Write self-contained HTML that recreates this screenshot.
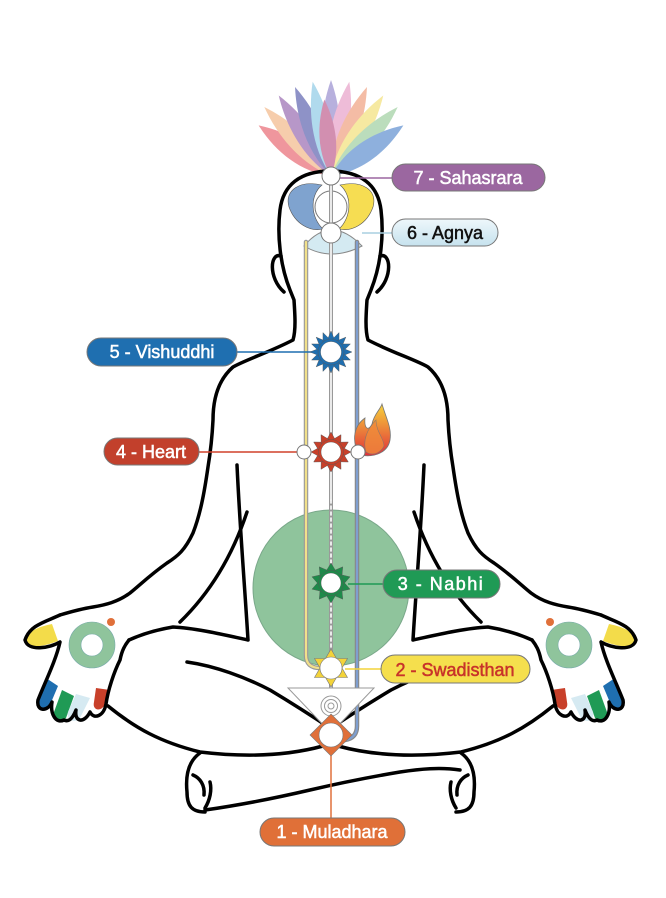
<!DOCTYPE html>
<html><head><meta charset="utf-8"><style>
html,body{margin:0;padding:0;background:#fff;}
svg{display:block}
text{font-family:"Liberation Sans",sans-serif;font-size:18px;}
</style></head><body>
<svg width="666" height="898" viewBox="0 0 666 898" xmlns="http://www.w3.org/2000/svg">
<defs>
<linearGradient id="fl" x1="0" y1="0" x2="0" y2="1"><stop offset="0" stop-color="#f7d23a"/><stop offset="1" stop-color="#e0303a"/></linearGradient>
<linearGradient id="ag" x1="0" y1="0" x2="0" y2="1"><stop offset="0" stop-color="#eef7fb"/><stop offset="1" stop-color="#c6e2ee"/></linearGradient>
<path id="pet" d="M0,0 C-13,-30 -11,-65 0,-96 C11,-65 13,-30 0,0Z"/>
<path id="s16" d="M-4.5,-10 L0,-21 L4.5,-10Z"/>
<path id="s12" d="M-5.5,-10 L0,-20 L5.5,-10Z"/>
<path id="s10" d="M-6,-10 L0,-20 L6,-10Z"/>
<g id="half" fill="none" stroke="#000" stroke-width="3.5" stroke-linecap="round" stroke-linejoin="round">
  <g stroke="none">
    <path d="M25,640 C28,630 42,626 52,624 L58,641 C45,646 28,650 25,640Z" fill="#f3dc4a"/>
    <path d="M46,678 L58,686 L50,705 C44,712 36,708 38,698Z" fill="#1f6fb0"/>
    <path d="M62,690 L74,696 L66,718 C60,724 52,718 54,712Z" fill="#1f9a55"/>
    <path d="M76,694 L90,698 L80,718 C74,724 66,720 68,712Z" fill="#d6eaf2"/>
    <path d="M96,688 L110,690 L104,706 C100,712 92,710 94,702Z" fill="#c8402a"/>
  </g>
  <circle cx="92" cy="645" r="17" stroke="#8fc49c" stroke-width="12" fill="none"/>
  <circle cx="92" cy="645" r="23" stroke="#7aa" stroke-width="0.6"/>
  <circle cx="92" cy="645" r="11" stroke="#7aa" stroke-width="0.6"/>
  <circle cx="111" cy="622" r="4" fill="#e0703a" stroke="none"/>
  <path d="M331,171 C300,171 283,185 280,210 C277,235 280,265 290,290 L294,300 C295,315 296,330 293,340 C270,352 245,360 233,367 C218,380 213,400 213,420 C212,440 210,455 208,467 C204,495 200,515 193,533 C185,550 178,556 167,563 C150,575 140,585 130,593 C118,602 105,605 93,607 C80,609 70,612 60,615"/>
  <path d="M281,256 C270,252 268,278 284,292"/>
  <path d="M60,615 C45,622 30,625 25,640 C28,652 50,648 60,642 C56,660 46,680 38,700 C36,712 48,712 52,702 C50,714 56,724 64,720 C68,722 72,720 76,710 C74,722 84,724 90,712 C94,720 104,716 106,704 C108,690 114,672 120,660 C122,650 125,645 129,640"/>
  <path d="M237,465 C240,530 245,590 248,640 C225,635 195,628 173,627 C155,630 140,635 129,640"/>
  <path d="M247,512 C235,548 215,588 180,622"/>
  <path d="M187,662 C215,666 245,677 270,690 C290,702 315,718 333,730"/>
  <path d="M108,706 C135,728 160,742 200,752 C250,758 290,755 323,746"/>
  <path d="M200,753 C190,760 185,772 187,792 C187,806 192,812 205,812"/>
  <path d="M193,775 C200,778 205,785 204,795"/>
  <path d="M210,782 C212,790 210,800 205,808"/>
</g>
</defs>

<g transform="translate(331,176)" opacity="0.7">
  <use href="#pet" transform="rotate(-55) scale(1.1,0.92)" fill="#e96a74"/>
  <use href="#pet" transform="rotate(-44)" fill="#f3b98a"/>
  <use href="#pet" transform="rotate(-33)" fill="#9a6cb2"/>
  <use href="#pet" transform="rotate(-22)" fill="#5f64b0"/>
  <use href="#pet" transform="rotate(-11)" fill="#8fcbe6"/>
  <use href="#pet" transform="rotate(0)" fill="#9a8fd0"/>
  <use href="#pet" transform="rotate(11)" fill="#e8a0c8"/>
  <use href="#pet" transform="rotate(22)" fill="#f0a080"/>
  <use href="#pet" transform="rotate(33)" fill="#f3e07a"/>
  <use href="#pet" transform="rotate(44)" fill="#9fd0a0"/>
  <use href="#pet" transform="rotate(55) scale(1.1,0.92)" fill="#5f8fd0"/>
  <use href="#pet" transform="rotate(-5) scale(0.9,0.8)" fill="#c06090"/>
</g>

<use href="#half"/>
<use href="#half" transform="translate(661,0) scale(-1,1)"/>
<path d="M205,810 C240,805 280,797 310,790 C340,783 370,777 400,772 C420,769 440,767 460,770" fill="none" stroke="#000" stroke-width="3.5" stroke-linecap="round"/>

<circle cx="331" cy="588" r="78" fill="#8fc49c" stroke="#7aa88a" stroke-width="1"/>

<path d="M322,185 C300,180 284,190 289,207 C295,224 310,232 323,229 C311,218 309,196 322,185Z" fill="#7fa3cf" stroke="#555" stroke-width="0.6"/>
<path d="M340,185 C362,180 378,190 373,207 C367,224 352,232 339,229 C351,218 353,196 340,185Z" fill="#f6dd52" stroke="#555" stroke-width="0.6"/>
<circle cx="331" cy="207" r="16" fill="#fff" stroke="#777" stroke-width="1"/>

<path d="M304,246 Q331,214 362,246 Q331,262 304,246Z" fill="#d4eaf2" stroke="#888" stroke-width="1"/>

<g fill="none" stroke-linecap="round">
  <path d="M306,242 L306,655 Q306,668 320,668" stroke="#999" stroke-width="4.5"/>
  <path d="M306,242 L306,655 Q306,668 320,668" stroke="#f1e08a" stroke-width="2.2"/>
  <path d="M357,242 L357,726 Q357,738 345,740" stroke="#888" stroke-width="4.5"/>
  <path d="M357,242 L357,726 Q357,738 345,740" stroke="#7f9fd0" stroke-width="2.2"/>
  <path d="M331,176 L331,733" stroke="#999" stroke-width="4"/>
  <path d="M331,176 L331,500" stroke="#fff" stroke-width="1.6"/>
  <path d="M331,500 L331,733" stroke="#fff" stroke-width="1.6" stroke-dasharray="3 3"/>
</g>

<g stroke-width="1.5" fill="none">
  <line x1="340" y1="178" x2="394" y2="178" stroke="#9b67a0"/>
  <line x1="362" y1="233" x2="394" y2="233" stroke="#a8cfe0"/>
  <line x1="236" y1="352" x2="312" y2="352" stroke="#1f6fb0"/>
  <line x1="198" y1="452" x2="298" y2="452" stroke="#d0402a"/>
  <line x1="348" y1="584" x2="385" y2="584" stroke="#1f9a55"/>
  <line x1="345" y1="669" x2="383" y2="669" stroke="#f3d33a"/>
  <line x1="331" y1="752" x2="331" y2="820" stroke="#e0703a"/>
</g>

<circle cx="331" cy="176" r="9" fill="#fff" stroke="#777" stroke-width="1"/>
<circle cx="331" cy="233" r="10" fill="#fff" stroke="#777" stroke-width="1"/>

<g transform="translate(331,352)" fill="#1f6fb0" stroke="#555" stroke-width="0.4">
  <use href="#s16"/><use href="#s16" transform="rotate(22.5)"/><use href="#s16" transform="rotate(45)"/><use href="#s16" transform="rotate(67.5)"/>
  <use href="#s16" transform="rotate(90)"/><use href="#s16" transform="rotate(112.5)"/><use href="#s16" transform="rotate(135)"/><use href="#s16" transform="rotate(157.5)"/>
  <use href="#s16" transform="rotate(180)"/><use href="#s16" transform="rotate(202.5)"/><use href="#s16" transform="rotate(225)"/><use href="#s16" transform="rotate(247.5)"/>
  <use href="#s16" transform="rotate(270)"/><use href="#s16" transform="rotate(292.5)"/><use href="#s16" transform="rotate(315)"/><use href="#s16" transform="rotate(337.5)"/>
  <circle r="13" fill="#1f6fb0"/><circle r="10.5" fill="#fff"/>
</g>

<path d="M360,455 C350,440 355,425 365,418 C364,428 368,432 372,424 C374,414 380,410 382,404 C386,418 392,428 390,440 C388,452 375,458 360,455Z" fill="url(#fl)" stroke="#777" stroke-width="0.8"/>
<path d="M366,452 C362,440 368,428 376,420 C376,432 384,438 384,446 C380,454 372,456 366,452Z" fill="#f08a3a" stroke="#777" stroke-width="0.6" opacity="0.8"/>

<g transform="translate(331,452)" fill="#c8402a" stroke="#555" stroke-width="0.4">
  <use href="#s12"/><use href="#s12" transform="rotate(30)"/><use href="#s12" transform="rotate(60)"/><use href="#s12" transform="rotate(90)"/>
  <use href="#s12" transform="rotate(120)"/><use href="#s12" transform="rotate(150)"/><use href="#s12" transform="rotate(180)"/><use href="#s12" transform="rotate(210)"/>
  <use href="#s12" transform="rotate(240)"/><use href="#s12" transform="rotate(270)"/><use href="#s12" transform="rotate(300)"/><use href="#s12" transform="rotate(330)"/>
  <circle r="12.5" fill="#c8402a"/><circle r="10" fill="#fff"/>
</g>
<circle cx="304" cy="452" r="7" fill="#fff" stroke="#777" stroke-width="1"/>
<circle cx="358" cy="452" r="7" fill="#fff" stroke="#777" stroke-width="1"/>

<g transform="translate(331,583)" fill="#1e8a4a" stroke="#555" stroke-width="0.4">
  <use href="#s10"/><use href="#s10" transform="rotate(36)"/><use href="#s10" transform="rotate(72)"/><use href="#s10" transform="rotate(108)"/><use href="#s10" transform="rotate(144)"/>
  <use href="#s10" transform="rotate(180)"/><use href="#s10" transform="rotate(216)"/><use href="#s10" transform="rotate(252)"/><use href="#s10" transform="rotate(288)"/><use href="#s10" transform="rotate(324)"/>
  <circle r="12.5" fill="#1e8a4a"/><circle r="10" fill="#fff"/>
</g>

<path d="M288,688 L374,688 L331,733Z" fill="#fff" stroke="#999" stroke-width="1"/>
<g fill="none" stroke="#999" stroke-width="1">
  <circle cx="331" cy="706" r="3"/><circle cx="331" cy="706" r="6.5"/><circle cx="331" cy="706" r="10"/>
</g>

<g transform="translate(331,668)" fill="#f3d33a" stroke="#777" stroke-width="0.6">
  <path d="M0,-19 L16.5,9.5 L-16.5,9.5Z"/><path d="M0,19 L16.5,-9.5 L-16.5,-9.5Z"/>
  <circle r="11" fill="#fff"/>
</g>

<g transform="translate(331,735)" fill="#e0703a" stroke="#777" stroke-width="0.6">
  <path d="M0,-21 L21,0 L0,21 L-21,0Z"/>
  <circle r="12" fill="#fff"/>
</g>

<g stroke="#777" stroke-width="1">
  <rect x="392" y="164" width="153" height="27" rx="13.5" fill="#9b67a0"/>
  <rect x="392" y="219" width="106" height="27" rx="13.5" fill="url(#ag)"/>
  <rect x="87" y="338" width="150" height="28" rx="14" fill="#1f6fb0"/>
  <rect x="104" y="438" width="95" height="27" rx="13.5" fill="#c2402c"/>
  <rect x="383" y="570" width="117" height="28" rx="14" fill="#1f9a55"/>
  <rect x="381" y="655" width="149" height="28" rx="14" fill="#f5df4d"/>
  <rect x="260" y="818" width="145" height="28" rx="14" fill="#e07038"/>
</g>
<g text-anchor="middle" stroke-width="0.5">
  <text x="468" y="184" fill="#fff" stroke="#fff">7 - Sahasrara</text>
  <text x="445" y="239" fill="#111" stroke="#111">6 - Agnya</text>
  <text x="162" y="358" fill="#fff" stroke="#fff">5 - Vishuddhi</text>
  <text x="151" y="458" fill="#fff" stroke="#fff">4 - Heart</text>
  <text x="441" y="590" fill="#fff" stroke="#fff" letter-spacing="1.5">3 - Nabhi</text>
  <text x="455" y="676" fill="#c8332a" stroke="#c8332a" font-size="19">2 - Swadisthan</text>
  <text x="332" y="838" fill="#fff" stroke="#fff">1 - Muladhara</text>
</g>
</svg>
</body></html>
